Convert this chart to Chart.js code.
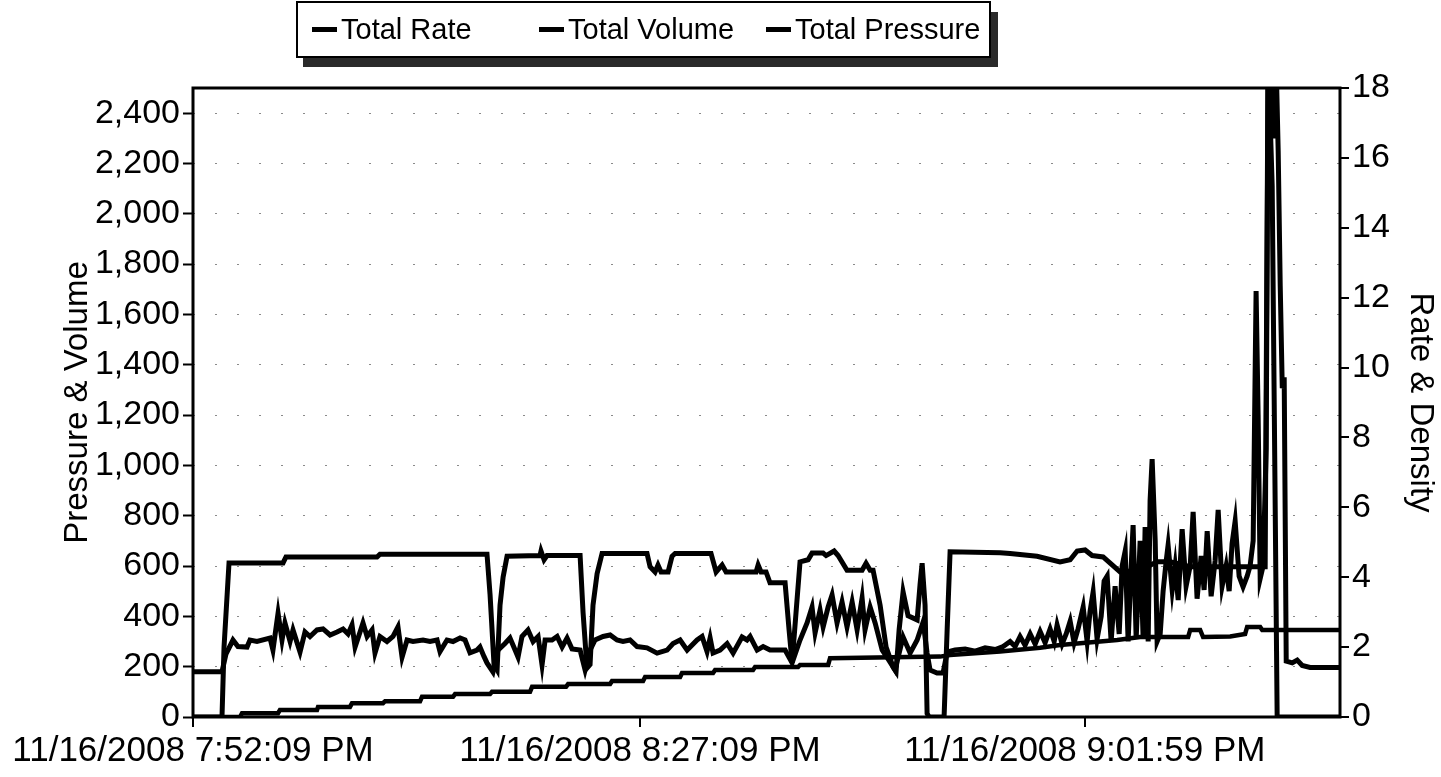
<!DOCTYPE html>
<html lang="en">
<head>
  <meta charset="UTF-8" />
  <title>Total Rate, Volume and Pressure</title>
  <script src="https://cdn.jsdelivr.net/npm/chart.js"></script>
  <style>
    html, body { margin: 0; padding: 0; background: #ffffff; }
    .wrap { width: 1441px; height: 777px; }
  </style>
</head>
<body>
  <div class="wrap"><canvas id="grafica" width="1441" height="777"></canvas></div>

  <script>
    // ticks
    const xTickValues = [0, 35, 69.833];   // minutes after 7:52:09 PM
    const xTickLabels = ['11/16/2008 7:52:09 PM', '11/16/2008 8:27:09 PM', '11/16/2008 9:01:59 PM'];
    const leftTicks = [0, 200, 400, 600, 800, 1000, 1200, 1400, 1600, 1800, 2000, 2200, 2400];
    const rightTicks = [0, 2, 4, 6, 8, 10, 12, 14, 16, 18];
    const seriesNames = ['Total Rate', 'Total Volume', 'Total Pressure'];

    // Total Rate (right axis)
    const rateTime = [0, 2.27, 2.43, 2.82, 7.05, 7.28, 14.41, 14.64, 23.02, 23.26, 23.57, 23.81, 24.04, 24.28, 24.59,
      27.17, 27.25, 27.49, 27.72, 30.31, 30.54, 30.85, 31.09, 31.32, 31.64, 32.03, 35.55, 35.79, 36.18, 36.41, 36.65,
      37.20, 37.51, 37.75, 40.56, 40.96, 41.43, 41.74, 44.09, 44.25, 44.48, 44.87, 45.18, 46.36, 46.67, 46.91, 47.22,
      47.53, 48.16, 48.47, 49.34, 49.57, 50.20, 50.51, 51.21, 52.39, 52.70, 53.02, 53.25, 53.80, 54.27, 54.82, 55.05,
      55.29, 55.60, 55.99, 56.70, 56.93, 57.09, 57.32, 57.48, 57.64, 58.81, 59.05, 59.28, 63.20, 63.98, 66.09, 67.89,
      68.68, 69.23, 69.85, 70.40, 71.26, 72.59, 74.16, 75.49, 76.51, 78.08, 80.42, 82.77, 83.95, 84.18, 84.50, 84.89, 89.81];
    const rateValue = [0, 0, 2.0, 4.41, 4.41, 4.58, 4.58, 4.66, 4.66, 3.5, 1.5, 1.35, 3.2, 4.0, 4.6,
      4.62, 4.75, 4.5, 4.62, 4.62, 3.0, 1.4, 1.5, 3.2, 4.1, 4.68, 4.68, 4.3, 4.15, 4.35, 4.15,
      4.15, 4.6, 4.68, 4.68, 4.15, 4.35, 4.15, 4.15, 4.35, 4.15, 4.15, 3.84, 3.84, 2.5, 1.55, 3.0,
      4.44, 4.5, 4.69, 4.69, 4.62, 4.75, 4.62, 4.2, 4.2, 4.4, 4.2, 4.2, 3.2, 2.0, 1.43, 1.3,
      2.5, 3.58, 2.9, 2.78, 3.8, 4.4, 3.2, 0.1, 0, 0, 2.5, 4.73, 4.7, 4.68, 4.6, 4.44,
      4.5, 4.75, 4.78, 4.62, 4.58, 4.15, 4.2, 4.44, 4.44, 4.3, 4.3, 4.3, 4.3, 19, 15.2, 0, 0];

    // Total Volume (left axis)
    const volumeTime = [0, 3.68, 3.84, 6.66, 6.81, 9.71, 9.79, 12.29, 12.45, 14.88, 15.04, 17.78, 17.93, 20.36, 20.52,
      23.26, 23.41, 26.39, 26.55, 29.21, 29.37, 32.66, 32.81, 35.24, 35.40, 38.14, 38.29, 40.72, 40.88, 43.85, 44.01,
      47.38, 47.53, 49.73, 49.88, 58.50, 59.28, 63.20, 66.33, 67.89, 71.03, 72.36, 74.16, 77.92, 78.08, 78.86, 79.09,
      81.21, 82.38, 82.54, 83.56, 83.72, 89.81];
    const volumeValue = [0, 0, 15, 15, 28, 28, 40, 40, 55, 55, 63, 63, 80, 80, 91,
      91, 100, 100, 120, 120, 131, 131, 143, 143, 159, 159, 175, 175, 187, 187, 199,
      199, 207, 207, 234, 240, 246, 260, 275, 286, 300, 306, 318, 318, 346, 346, 318,
      320, 330, 358, 358, 346, 346];

    // Total Pressure (left axis)
    const pressureTime = [0, 2.27, 2.58, 3.13, 3.52, 4.23, 4.46, 5.01, 6.03, 6.26, 6.66, 6.97, 7.20, 7.60, 7.83, 8.38,
      8.77, 9.16, 9.71, 10.18, 10.73, 11.28, 11.75, 12.14, 12.45, 12.69, 13.08, 13.31, 13.63, 14.02, 14.25, 14.64,
      15.19, 15.66, 16.05, 16.37, 16.76, 17.23, 18.01, 18.56, 19.11, 19.34, 19.89, 20.36, 20.91, 21.30, 21.69, 22.24,
      22.47, 22.79, 23.02, 23.49, 23.88, 24.43, 24.82, 25.22, 25.45, 25.76, 26.23, 26.63, 27.02, 27.33, 27.57, 28.11,
      28.51, 28.90, 29.29, 29.68, 30.31, 30.70, 31.09, 31.48, 32.11, 32.66, 33.20, 33.67, 34.22, 34.77, 35.55, 36.34,
      37.12, 37.59, 38.14, 38.69, 39.47, 39.86, 40.25, 40.49, 40.72, 41.27, 41.82, 42.29, 42.99, 43.38, 43.62, 44.17,
      44.64, 45.18, 46.36, 46.91, 47.53, 48.08, 48.47, 48.71, 49.10, 49.34, 49.73, 50.04, 50.43, 50.82, 51.21, 51.61,
      52.00, 52.39, 52.62, 53.02, 53.41, 53.96, 54.43, 54.97, 55.60, 56.15, 56.70, 57.17, 57.48, 57.71, 58.26, 58.73,
      59.05, 59.67, 60.46, 61.24, 62.02, 62.81, 63.43, 63.98, 64.37, 64.76, 65.15, 65.55, 65.94, 66.33, 66.72, 67.11,
      67.43, 67.66, 68.05, 68.37, 68.68, 68.99, 69.30, 69.70, 70.01, 70.24, 70.48, 70.79, 71.11, 71.34, 71.58, 71.89,
      72.20, 72.52, 72.75, 72.99, 73.22, 73.46, 73.61, 73.85, 74.16, 74.39, 74.55, 74.79, 74.94, 75.10, 75.34, 75.49,
      75.73, 75.96, 76.20, 76.35, 76.67, 76.90, 77.14, 77.45, 77.76, 78.08, 78.31, 78.62, 78.94, 79.17, 79.41, 79.72,
      80.03, 80.27, 80.58, 80.89, 81.13, 81.36, 81.60, 81.91, 82.22, 82.54, 82.77, 83.01, 83.24, 83.40, 83.56, 83.79,
      84.03, 84.18, 84.34, 84.50, 84.65, 84.81, 84.97, 85.13, 85.29, 85.44, 85.60, 86.07, 86.46, 86.85, 87.47, 89.81];
    const pressureValue = [180, 180, 250, 306, 280, 278, 306, 300, 314, 266, 413, 306, 374, 300, 346, 258,
      338, 320, 346, 350, 326, 338, 350, 330, 366, 278, 338, 374, 320, 346, 254, 320,
      300, 320, 358, 238, 306, 300, 306, 300, 306, 260, 306, 300, 314, 306, 255, 266,
      278, 240, 215, 179, 266, 292, 314, 266, 238, 320, 346, 300, 320, 207, 306, 306,
      320, 278, 314, 270, 266, 187, 266, 306, 320, 326, 306, 300, 306, 280, 275, 254,
      266, 292, 306, 266, 306, 320, 260, 314, 254, 266, 292, 254, 318, 306, 320, 266,
      280, 266, 266, 215, 306, 374, 437, 334, 425, 358, 437, 485, 374, 457, 358, 457,
      346, 473, 346, 437, 374, 266, 230, 187, 318, 254, 306, 378, 254, 187, 175, 175,
      258, 266, 270, 262, 275, 268, 280, 300, 280, 320, 285, 330, 290, 340, 295, 350,
      300, 366, 290, 330, 381, 295, 350, 437, 300, 420, 497, 310, 400, 540, 560, 300,
      520, 330, 600, 660, 300, 600, 763, 310, 700, 320, 755, 300, 860, 1025, 700, 300,
      330, 500, 620, 683, 505, 600, 465, 747, 520, 600, 815, 470, 640, 505, 739, 480,
      620, 823, 520, 600, 500, 690, 779, 560, 517, 560, 600, 700, 1693, 1200, 550, 600,
      1066, 2600, 2250, 2600, 2300, 2600, 2250, 1713, 1307, 1350, 222, 215, 226, 205, 197, 197];

    function pares(t, v) {
      return t.map((x, i) => ({ x: x, y: v[i] }));
    }

    const fuente = "'Liberation Sans', Arial, sans-serif";

    // frame around the plot area
    const marco = {
      id: 'marco',
      afterDraw(chart) {
        const a = chart.chartArea, ctx = chart.ctx;
        ctx.save();
        ctx.strokeStyle = '#000';
        ctx.lineWidth = 3;
        ctx.strokeRect(a.left, a.top, a.right - a.left, a.bottom - a.top);
        ctx.restore();
      }
    };

    // boxed legend with dark shadow, three columns
    const leyenda = {
      id: 'leyenda',
      afterDraw(chart, args, opts) {
        const ctx = chart.ctx;
        const x0 = opts.left, x1 = opts.right, y0 = opts.top, y1 = opts.bottom;
        ctx.save();
        ctx.fillStyle = '#2a2a2a';
        ctx.fillRect(x0 + 6, y0 + 10, x1 - x0 + 2, y1 - y0);
        ctx.fillStyle = '#fff';
        ctx.fillRect(x0, y0, x1 - x0, y1 - y0);
        ctx.strokeStyle = '#000';
        ctx.lineWidth = 2;
        ctx.strokeRect(x0, y0, x1 - x0, y1 - y0);
        const yc = (y0 + y1) / 2;
        ctx.font = opts.font;
        ctx.textBaseline = 'middle';
        ctx.fillStyle = '#000';
        chart.data.datasets.forEach((ds, i) => {
          const cx = x0 + 15 + i * opts.column;
          ctx.lineWidth = 5;
          ctx.beginPath();
          ctx.moveTo(cx, yc);
          ctx.lineTo(cx + 25, yc);
          ctx.stroke();
          ctx.fillText(ds.label, cx + 29, yc + 1);
        });
        ctx.restore();
      }
    };

    const serie = (label, data, eje, ancho) => ({
      label: label,
      data: data,
      yAxisID: eje,
      borderColor: '#000',
      backgroundColor: '#000',
      borderWidth: ancho,
      pointRadius: 0,
      tension: 0,
      fill: false
    });

    new Chart(document.getElementById('grafica'), {
      type: 'line',
      data: {
        datasets: [
          serie(seriesNames[0], pares(rateTime, rateValue), 'y1', 5),
          serie(seriesNames[1], pares(volumeTime, volumeValue), 'y', 4.5),
          serie(seriesNames[2], pares(pressureTime, pressureValue), 'y', 5)
        ]
      },
      options: {
        responsive: false,
        animation: false,
        layout: { padding: { top: 88, left: 0, right: 0, bottom: 0 } },
        plugins: {
          legend: { display: false },
          tooltip: { enabled: false },
          leyenda: { left: 297, right: 990, top: 2, bottom: 57, column: 227, font: "29px " + fuente }
        },
        scales: {
          x: {
            type: 'linear',
            min: 0,
            max: 89.81,
            afterBuildTicks: s => { s.ticks = xTickValues.map(v => ({ value: v })); },
            afterFit: s => { s.height = 60; },
            ticks: {
              autoSkip: false,
              maxRotation: 0,
              color: '#000',
              padding: 3,
              font: { family: fuente, size: 35 },
              callback: (v, i) => xTickLabels[i]
            },
            grid: { drawOnChartArea: false, color: '#000', lineWidth: 2, tickLength: 10 },
            border: { display: false }
          },
          y: {
            position: 'left',
            min: 0,
            max: 2500,
            afterBuildTicks: s => { s.ticks = leftTicks.map(v => ({ value: v })); },
            afterFit: s => { s.width = 193; },
            ticks: {
              color: '#000',
              padding: 3,
              font: { family: fuente, size: 34 },
              callback: v => v.toLocaleString('en-US')
            },
            grid: { color: '#8a8a8a', lineWidth: 1, tickLength: 10, tickColor: '#000', tickWidth: 2, tickBorderDash: [] },
            border: { display: false, dash: [2, 20] },
            title: {
              display: true,
              text: 'Pressure & Volume',
              color: '#000',
              font: { family: fuente, size: 33 },
              padding: { top: 58, bottom: 0 }
            }
          },
          y1: {
            position: 'right',
            min: 0,
            max: 18,
            afterBuildTicks: s => { s.ticks = rightTicks.map(v => ({ value: v })); },
            afterFit: s => { s.width = 101; },
            ticks: {
              color: '#000',
              padding: 3,
              font: { family: fuente, size: 34 }
            },
            grid: { drawOnChartArea: false, color: '#000', lineWidth: 2, tickLength: 9 },
            border: { display: false },
            title: {
              display: true,
              text: 'Rate & Density',
              color: '#000',
              font: { family: fuente, size: 33 },
              padding: { top: 1, bottom: 0 }
            }
          }
        }
      },
      plugins: [marco, leyenda]
    });
  </script>
</body>
</html>
